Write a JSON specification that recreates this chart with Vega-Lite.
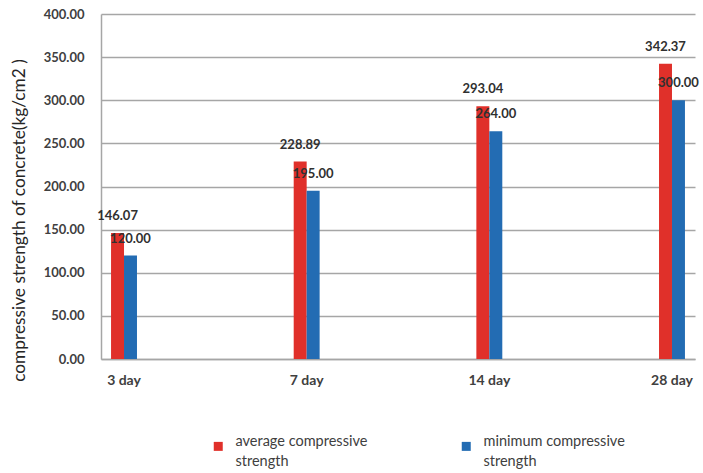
{
  "$schema": "https://vega.github.io/schema/vega-lite/v6.json",
  "width": 594,
  "height": 345,
  "autosize": {"type": "none"},
  "padding": {"left": 101, "top": 14, "right": 8, "bottom": 114},
  "background": "white",
  "config": {"view": {"stroke": null}, "font": "Lato", "style": {"guide-label": {"lineHeight": 20}}},
  "data": {
    "values": [
      {"age": "3 day", "series": "average compressive strength", "value": 146.07},
      {"age": "3 day", "series": "minimum  compressive strength", "value": 120.0},
      {"age": "7 day", "series": "average compressive strength", "value": 228.89},
      {"age": "7 day", "series": "minimum  compressive strength", "value": 195.0},
      {"age": "14 day", "series": "average compressive strength", "value": 293.04},
      {"age": "14 day", "series": "minimum  compressive strength", "value": 264.0},
      {"age": "28 day", "series": "average compressive strength", "value": 342.37},
      {"age": "28 day", "series": "minimum  compressive strength", "value": 300.0}
    ]
  },
  "encoding": {
    "x": {
      "field": "age",
      "type": "nominal",
      "sort": ["3 day", "7 day", "14 day", "28 day"],
      "scale": {"paddingInner": 0.858, "paddingOuter": 0.055},
      "axis": {
        "title": null,
        "labelAngle": 0,
        "ticks": false,
        "domainColor": "#a6a6a6",
        "domainWidth": 1.5,
        "labelFont": "Lato",
        "labelFontSize": 14,
        "labelFontWeight": "bold",
        "labelColor": "#404040",
        "labelPadding": 14
      }
    },
    "xOffset": {
      "field": "series",
      "type": "nominal",
      "scale": {"paddingInner": 0, "paddingOuter": 0}
    },
    "y": {
      "field": "value",
      "type": "quantitative",
      "scale": {"domain": [0, 400]},
      "axis": {
        "title": "compressive  strength  of concrete(kg/cm2 )",
        "titleFont": "Lato",
        "titleFontSize": 17.3,
        "titleFontWeight": "normal",
        "titleColor": "#262626",
        "titleX": -73,
        "titleY": 206,
        "titleAngle": -90,
        "titleBaseline": "bottom",
        "titleAlign": "center",
        "values": [0, 50, 100, 150, 200, 250, 300, 350, 400],
        "format": ".2f",
        "ticks": false,
        "domainColor": "#a6a6a6",
        "domainWidth": 1.5,
        "gridColor": "#a6a6a6",
        "gridWidth": 1.5,
        "labelFont": "Lato",
        "labelFontSize": 13,
        "labelFontWeight": "bold",
        "labelColor": "#404040",
        "labelPadding": 17
      }
    }
  },
  "layer": [
    {
      "mark": {"type": "bar"},
      "encoding": {
        "color": {
          "field": "series",
          "type": "nominal",
          "scale": {
            "domain": ["average compressive strength", "minimum  compressive strength"],
            "range": ["#e0302a", "#236cb3"]
          },
          "legend": {
            "orient": "none",
            "legendX": 110,
            "legendY": 425,
            "direction": "horizontal",
            "title": null,
            "padding": 0,
            "symbolType": "square",
            "symbolSize": 81,
            "symbolStrokeWidth": 0,
            "labelFont": "Lato",
            "labelFontSize": 14.5,
            "labelColor": "#404040",
            "labelOffset": 10,
            "labelBaseline": "alphabetic",
            "labelLimit": 300,
            "columnPadding": 91,
            "labelExpr": "datum.label == 'average compressive strength' ? ['average compressive', 'strength'] : ['minimum  compressive', 'strength']"
          }
        }
      }
    },
    {
      "mark": {
        "type": "text",
        "baseline": "bottom",
        "dy": -10,
        "font": "Lato",
        "fontSize": 13,
        "fontWeight": "bold",
        "color": "#303030"
      },
      "encoding": {"text": {"field": "value", "type": "quantitative", "format": ".2f"}}
    }
  ]
}
